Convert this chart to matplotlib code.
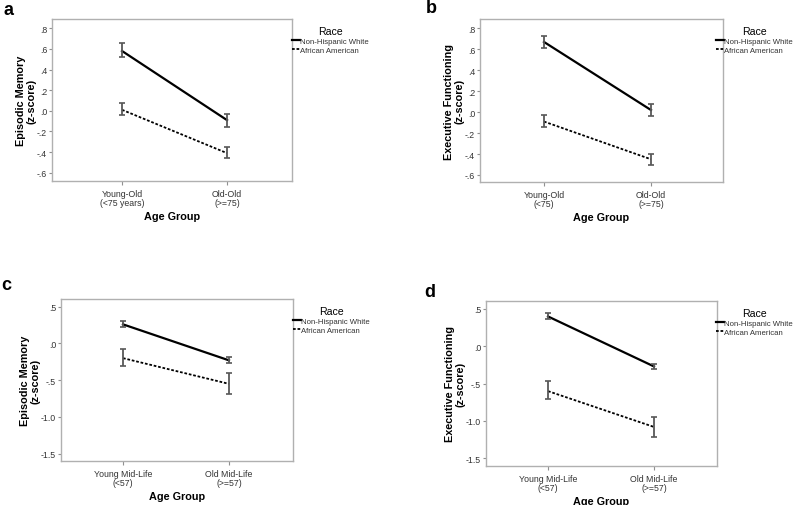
import matplotlib
matplotlib.use("Agg")
import matplotlib.pyplot as plt
from matplotlib.ticker import FuncFormatter

plt.rcParams['font.family'] = ['Liberation Sans', 'DejaVu Sans']

race = ["Non-Hispanic White", "African American"]

# panel a: episodic memory, older sample
a_groups = ["Young-Old\n(<75 years)", "Old-Old\n(>=75)"]
a_nhw = [0.58, -0.09]
a_nhw_lo = [0.52, -0.16]
a_nhw_hi = [0.66, -0.03]
a_aa = [0.01, -0.41]
a_aa_lo = [-0.04, -0.46]
a_aa_hi = [0.08, -0.35]

# panel b: executive functioning, older sample
b_groups = ["Young-Old\n(<75)", "Old-Old\n(>=75)"]
b_nhw = [0.67, 0.02]
b_nhw_lo = [0.61, -0.04]
b_nhw_hi = [0.73, 0.08]
b_aa = [-0.09, -0.45]
b_aa_lo = [-0.14, -0.50]
b_aa_hi = [-0.03, -0.40]

# panel c: episodic memory, mid-life sample
c_groups = ["Young Mid-Life\n(<57)", "Old Mid-Life\n(>=57)"]
c_nhw = [0.26, -0.23]
c_nhw_lo = [0.22, -0.27]
c_nhw_hi = [0.31, -0.19]
c_aa = [-0.20, -0.55]
c_aa_lo = [-0.31, -0.69]
c_aa_hi = [-0.07, -0.40]

# panel d: executive functioning, mid-life sample
d_groups = ["Young Mid-Life\n(<57)", "Old Mid-Life\n(>=57)"]
d_nhw = [0.40, -0.27]
d_nhw_lo = [0.36, -0.31]
d_nhw_hi = [0.44, -0.24]
d_aa = [-0.60, -1.08]
d_aa_lo = [-0.71, -1.22]
d_aa_hi = [-0.47, -0.94]

old_ticks = [0.8, 0.6, 0.4, 0.2, 0.0, -0.2, -0.4, -0.6]
mid_ticks = [0.5, 0.0, -0.5, -1.0, -1.5]

W, H = 800, 506


def spss_fmt(v, pos):
    # SPSS style: no leading zero
    s = "%.1f" % v
    s = s.replace("0.", ".")
    if s == "-.0":
        s = ".0"
    return s


def panel(box, leg_x, letter_xy, letter, groups, nhw, nhw_lo, nhw_hi,
          aa, aa_lo, aa_hi, ylabel, yticks, ylim, xlim):
    # box is left, top, right, bottom in pixels
    l, t, r, b = box
    ax = fig.add_axes([l / W, 1 - b / H, (r - l) / W, (b - t) / H])
    x = [0, 1]
    ax.plot(x, nhw, color="black", lw=1.6, ls="-", label=race[0])
    ax.plot(x, aa, color="black", lw=1.3, ls=(0, (1.5, 1)), label=race[1])
    for m, lo, hi in [(nhw, nhw_lo, nhw_hi), (aa, aa_lo, aa_hi)]:
        err = [[mm - q for mm, q in zip(m, lo)], [q - mm for mm, q in zip(m, hi)]]
        ax.errorbar(x, m, yerr=err, fmt="none", ecolor="#585858",
                    elinewidth=1.3, capsize=2.5, capthick=1.2)
    ax.set_xlim(xlim)
    ax.set_ylim(ylim)
    ax.set_yticks(yticks)
    ax.yaxis.set_major_formatter(FuncFormatter(spss_fmt))
    ax.set_xticks(x)
    ax.set_xticklabels(groups, linespacing=1.0)
    for s in ax.spines.values():
        s.set_color("#b0b0b0")
        s.set_linewidth(1.0)
    ax.tick_params(axis="both", colors="#909090", labelcolor="#333333",
                   labelsize=6.3, length=2.5, width=0.8, pad=1)
    ax.tick_params(axis="x", length=3, pad=2.5)
    ax.set_ylabel(ylabel, fontsize=7.8, fontweight="bold", labelpad=0.5,
                  linespacing=1.0)
    ax.set_xlabel("Age Group", fontsize=7.8, fontweight="bold", labelpad=3)
    lx = (leg_x - l) / (r - l)
    leg = ax.legend(loc="upper left", bbox_to_anchor=(lx, 0.955),
                    frameon=False, fontsize=5.6, title="Race",
                    title_fontsize=7.6, handlelength=1.0, handletextpad=0.05,
                    labelspacing=0.15, borderaxespad=0, borderpad=0)
    for t_ in leg.get_texts():
        t_.set_color("#333333")
    fig.text(letter_xy[0] / W, 1 - letter_xy[1] / H, letter, fontsize=13,
             fontweight="bold", va="baseline", ha="left")
    return ax


fig = plt.figure(figsize=(8, 5.06), dpi=100)

panel((52, 20, 292, 182), 292, (4, 15), "a", a_groups, a_nhw, a_nhw_lo, a_nhw_hi,
      a_aa, a_aa_lo, a_aa_hi, "Episodic Memory\n(z-score)", old_ticks,
      (-0.68, 0.89), (-0.667, 1.619))
panel((480, 20, 723, 183), 716, (426, 13), "b", b_groups, b_nhw, b_nhw_lo, b_nhw_hi,
      b_aa, b_aa_lo, b_aa_hi, "Executive Functioning\n(z-score)", old_ticks,
      (-0.667, 0.889), (-0.598, 1.673))
panel((61, 300, 293, 462), 293, (1, 290), "c", c_groups, c_nhw, c_nhw_lo, c_nhw_hi,
      c_aa, c_aa_lo, c_aa_hi, "Episodic Memory\n(z-score)", mid_ticks,
      (-1.60, 0.605), (-0.585, 1.604))
panel((486, 302, 717, 467), 716, (424, 297), "d", d_groups, d_nhw, d_nhw_lo, d_nhw_hi,
      d_aa, d_aa_lo, d_aa_hi, "Executive Functioning\n(z-score)", mid_ticks,
      (-1.603, 0.607), (-0.585, 1.594))

fig.savefig("out.png", dpi=100)
